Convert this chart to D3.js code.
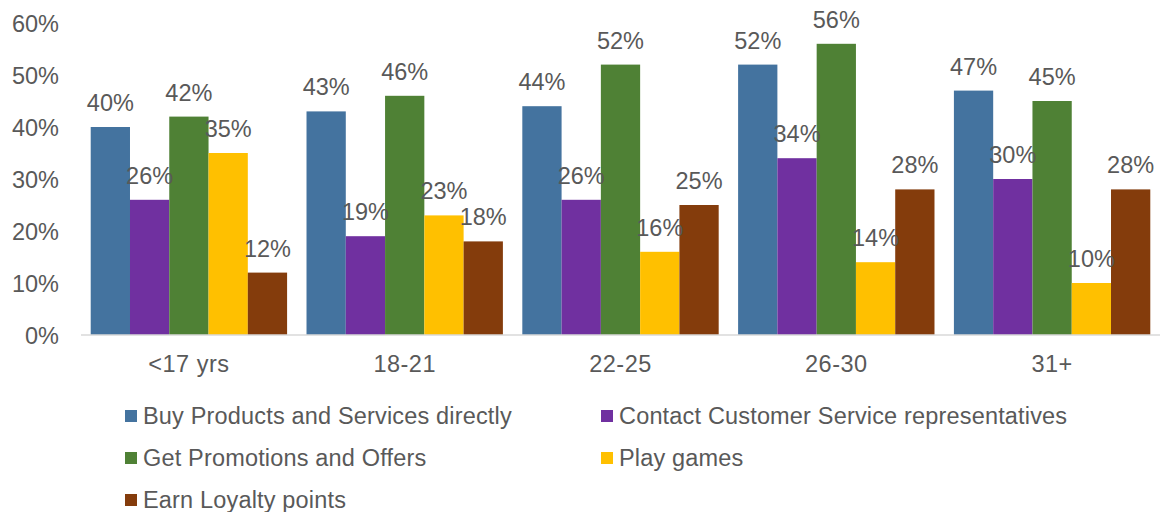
<!DOCTYPE html>
<html>
<head>
<meta charset="utf-8">
<script src="https://cdn.jsdelivr.net/npm/d3@7"></script>
<style>
  html, body { margin: 0; padding: 0; background: #fff; }
  svg text { font-family: "Liberation Sans", Arial, Helvetica, sans-serif; fill: #595959; }
</style>
</head>
<body>
<svg id="chart" width="1162" height="512"></svg>
<script>
// Age groups along the x axis
const categories = ["<17 yrs", "18-21", "22-25", "26-30", "31+"];

// Share of respondents (%) per activity, one value per age group
const buyDirect   = [40, 43, 44, 52, 47];
const contactCS   = [26, 19, 26, 34, 30];
const promotions  = [42, 46, 52, 56, 45];
const playGames   = [35, 23, 16, 14, 10];
const loyalty     = [12, 18, 25, 28, 28];

const seriesNames = [
  "Buy Products and Services directly",
  "Contact Customer Service representatives",
  "Get Promotions and Offers",
  "Play games",
  "Earn Loyalty points"
];
const seriesValues = [buyDirect, contactCS, promotions, playGames, loyalty];
const seriesColors = ["#44739f", "#7030a0", "#4f8135", "#ffc000", "#843c0c"];

const yTicks = [0, 10, 20, 30, 40, 50, 60];

const svg = d3.select("#chart");
const plot = { left: 81, right: 1160, top: 23, bottom: 335 };
const fontSize = 23.5;

const x = d3.scaleBand()
  .domain(categories)
  .range([plot.left, plot.right])
  .paddingInner(0.09)
  .paddingOuter(0.045);

const xs = d3.scaleBand()
  .domain(d3.range(seriesNames.length))
  .range([0, x.bandwidth()]);

const y = d3.scaleLinear()
  .domain([0, 60])
  .range([plot.bottom, plot.top]);

// Y axis tick labels (no axis line)
const yAxis = d3.axisLeft(y)
  .tickValues(yTicks)
  .tickFormat(d => d + "%")
  .tickSize(0)
  .tickPadding(0);
const gy = svg.append("g").attr("transform", `translate(59,0)`).call(yAxis);
gy.select(".domain").remove();
gy.selectAll("text")
  .attr("font-size", fontSize)
  .attr("fill", "#595959")
  .attr("dy", "0.35em");

// Bars
const groups = svg.append("g").selectAll("g")
  .data(categories)
  .join("g")
  .attr("transform", d => `translate(${x(d)},0)`);

groups.selectAll("rect")
  .data((c, ci) => seriesValues.map((vals, si) => ({ si, v: vals[ci] })))
  .join("rect")
  .attr("x", d => xs(d.si))
  .attr("width", xs.bandwidth())
  .attr("y", d => y(d.v))
  .attr("height", d => y(0) - y(d.v))
  .attr("fill", d => seriesColors[d.si]);

// Value labels above each bar
groups.selectAll("text.val")
  .data((c, ci) => seriesValues.map((vals, si) => ({ si, v: vals[ci] })))
  .join("text")
  .attr("class", "val")
  .attr("x", d => xs(d.si) + xs.bandwidth() / 2)
  .attr("y", d => y(d.v) - 16)
  .attr("text-anchor", "middle")
  .attr("font-size", fontSize)
  .text(d => d.v + "%");

// X axis baseline and category labels
const xAxis = d3.axisBottom(x).tickSize(0).tickPadding(0);
const gx = svg.append("g").attr("transform", `translate(0,${plot.bottom})`).call(xAxis);
gx.select(".domain").attr("stroke", "#d9d9d9").attr("stroke-width", 1.5)
  .attr("d", `M${plot.left},0H${plot.right}`);
gx.selectAll("text")
  .attr("font-size", fontSize)
  .attr("fill", "#595959")
  .attr("letter-spacing", 0.5)
  .attr("y", 37)
  .attr("dy", 0);

// Legend: two columns, three rows
const legendPos = [
  { x: 125, y: 416 }, { x: 601, y: 416 },
  { x: 125, y: 458 }, { x: 601, y: 458 },
  { x: 125, y: 500 }
];
const legend = svg.append("g").selectAll("g")
  .data(seriesNames)
  .join("g")
  .attr("transform", (d, i) => `translate(${legendPos[i].x},${legendPos[i].y})`);
legend.append("rect")
  .attr("x", 0).attr("y", -6)
  .attr("width", 12).attr("height", 12)
  .attr("fill", (d, i) => seriesColors[i]);
legend.append("text")
  .attr("x", 18).attr("y", 0).attr("dy", "0.35em")
  .attr("font-size", fontSize)
  .attr("letter-spacing", 0.17)
  .text(d => d);
</script>
</body>
</html>
